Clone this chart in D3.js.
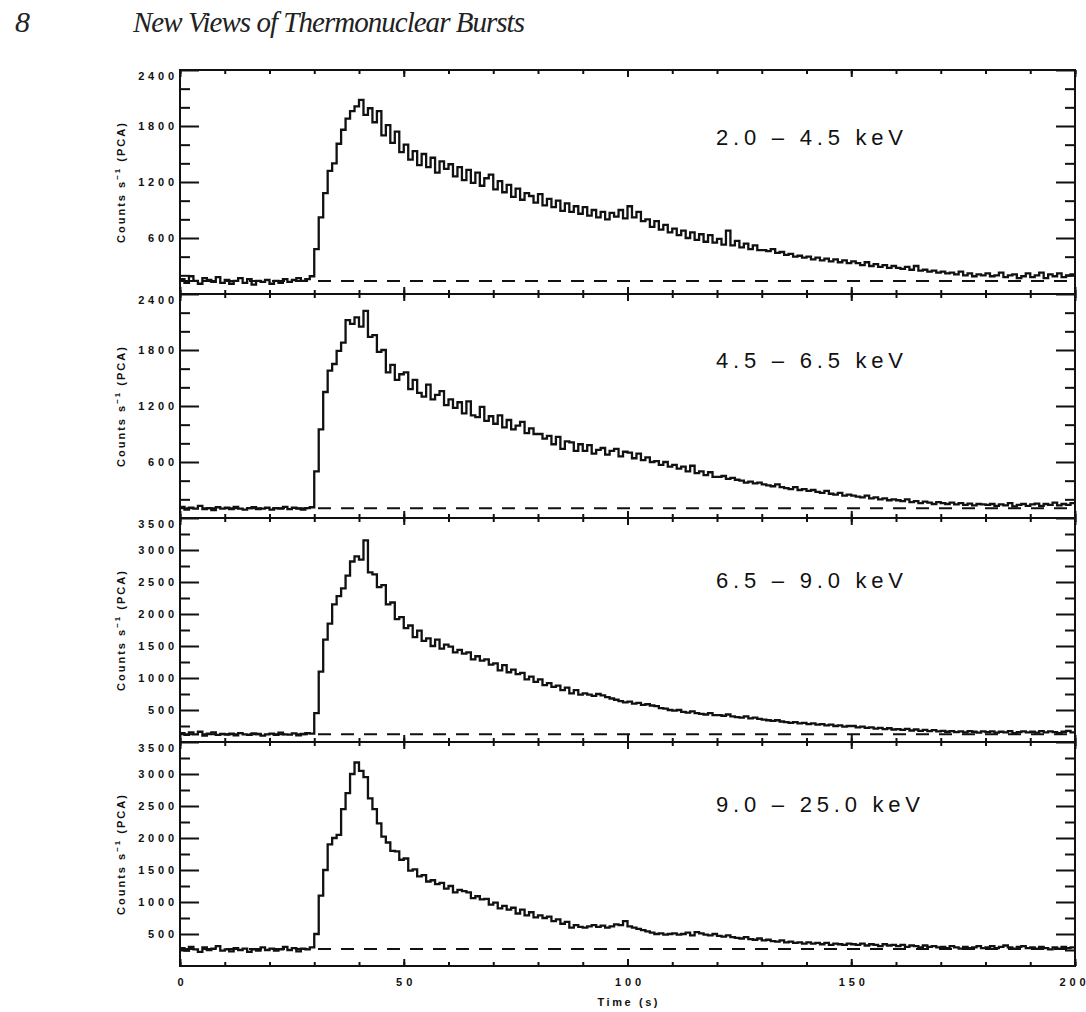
<!DOCTYPE html>
<html>
<head>
<meta charset="utf-8">
<script src="https://cdn.jsdelivr.net/npm/d3@7"></script>
<style>
    body { margin: 0; background: white; }
    .tickLabel { font-family: 'Liberation Sans', Arial, sans-serif; font-weight: bold; font-size: 11px; fill: #111; }
</style>
</head>
<body>
<div id="chart"></div>
<script>
// energy bands, one panel each
let bands = ['2.0 \u2013 4.5 keV', '4.5 \u2013 6.5 keV', '6.5 \u2013 9.0 keV', '9.0 \u2013 25.0 keV'];
let backgrounds = [140, 105, 120, 265];
let yMaxes = [2400, 2400, 3500, 3500];
let yMajorTicks = [
    [600, 1200, 1800, 2400],
    [600, 1200, 1800, 2400],
    [500, 1000, 1500, 2000, 2500, 3000, 3500],
    [500, 1000, 1500, 2000, 2500, 3000, 3500]
];
let yMinorSteps = [200, 200, 250, 250];
let xMajorTicks = [0, 50, 100, 150, 200];
let xMinorTicks = d3.range(0, 201, 10);

// 1 s bins starting at t = 0 .. 199
let binStart = d3.range(0, 200);

let rates2to45 = [
    160, 120, 190, 140, 110, 170, 150, 130, 180, 120,
    150, 110, 140, 170, 120, 160, 100, 140, 130, 150,
    110, 140, 120, 160, 130, 150, 170, 140, 160, 190,
    480, 820, 1080, 1320, 1400, 1610, 1760, 1880, 1960, 2010,
    2080, 1920, 1990, 1840, 1960, 1700, 1810, 1620, 1740, 1520,
    1600, 1440, 1530, 1380, 1500, 1360, 1460, 1300, 1420, 1340,
    1390, 1260, 1360, 1220, 1330, 1190, 1300, 1160, 1240, 1280,
    1120, 1210, 1090, 1170, 1040, 1130, 1010, 1080, 1050, 980,
    1070, 950, 1020, 930, 1000, 890, 970, 880, 940, 860,
    930, 840, 900, 820, 880, 800, 870, 830, 900, 810,
    940, 820, 880, 780, 800, 720, 780, 690, 740, 660,
    700, 630, 680, 600, 660, 580, 640, 560, 630, 550,
    590, 530, 680, 520, 570, 500, 540, 480, 520, 470,
    470, 460, 480, 440, 450, 420, 430, 400, 410, 390,
    400, 370, 390, 360, 380, 350, 370, 340, 360, 330,
    350, 330, 310, 340, 300, 320, 290, 310, 280, 300,
    280, 270, 290, 260, 300, 250, 260, 240, 250, 230,
    240, 220, 230, 210, 240, 200, 220, 190, 210, 200,
    220, 190, 200, 230, 180, 200, 210, 170, 190, 220,
    180, 200, 230, 170, 210, 190, 220, 180, 200, 210
];
let rates45to65 = [
    120, 90, 110, 100, 130, 95, 105, 85, 115, 100,
    110, 95, 120, 100, 90, 105, 115, 95, 100, 110,
    90, 105, 100, 120, 95, 110, 100, 90, 105, 115,
    500, 950, 1350, 1580, 1650, 1790, 1880, 2120, 2080, 2150,
    2050, 2220, 1940, 1960, 1780, 1800, 1560, 1640, 1480, 1540,
    1560, 1380, 1480, 1340, 1300, 1430, 1270, 1320, 1360, 1210,
    1270, 1180, 1240, 1120, 1250, 1100, 1080, 1190, 1040, 1090,
    1010, 1100, 970, 1050, 950, 990, 1030, 910, 960, 900,
    900, 850, 880, 790, 870, 740, 820, 810, 720, 790,
    720, 780, 690, 730, 750, 680, 720, 740, 660, 710,
    700, 640, 690, 620, 650, 600, 610, 570, 600, 550,
    570, 530, 550, 500, 560, 480, 500, 460, 490, 440,
    440, 450, 420, 430, 410, 400, 380, 390, 370, 380,
    360, 350, 340, 360, 330, 320, 310, 330, 300, 310,
    290, 300, 280, 270, 290, 260, 250, 270, 240, 250,
    240, 230, 220, 240, 210, 220, 200, 210, 190, 200,
    190, 180, 200, 170, 180, 160, 175, 165, 150, 170,
    160, 150, 165, 145, 160, 140, 155, 135, 150, 145,
    140, 150, 130, 145, 135, 160, 125, 140, 150, 130,
    145, 155, 130, 150, 140, 165, 135, 150, 140, 160
];
let rates65to90 = [
    140, 110, 150, 120, 160, 100, 130, 150, 110, 125,
    115, 130, 105, 140, 120, 110, 135, 125, 100, 120,
    130, 110, 145, 120, 115, 135, 105, 125, 140, 130,
    450, 1100, 1600, 1850, 2150, 2280, 2400, 2600, 2820, 2900,
    2850, 3150, 2650, 2620, 2420, 2450, 2150, 2180, 1920, 1950,
    1780, 1820, 1640, 1740, 1580, 1620, 1500, 1600, 1460, 1520,
    1490, 1400, 1440, 1380, 1400, 1290, 1340, 1270, 1290, 1210,
    1230, 1120, 1200, 1090, 1130, 1060, 1080, 980, 1020, 940,
    980, 890, 920, 860, 880, 810, 850, 760, 810, 740,
    760, 740, 720, 750, 730, 700, 680, 660, 640, 620,
    630, 600, 610, 580, 590, 570, 560, 530, 520, 500,
    490, 500, 470, 460, 480, 450, 440, 430, 450, 420,
    420, 410, 430, 400, 390, 380, 400, 370, 380, 360,
    350, 340, 330, 340, 320, 310, 300, 310, 290, 300,
    280, 290, 270, 280, 260, 270, 250, 260, 240, 250,
    250, 230, 240, 220, 230, 210, 220, 200, 215, 195,
    200, 190, 205, 180, 195, 175, 190, 170, 185, 165,
    175, 160, 170, 155, 165, 150, 170, 160, 145, 165,
    155, 165, 145, 160, 150, 170, 140, 155, 165, 150,
    160, 145, 170, 150, 165, 155, 140, 160, 175, 150
];
let rates90to250 = [
    280, 240, 300, 260, 220, 290, 250, 270, 310, 240,
    260, 230, 280, 250, 270, 220, 260, 240, 290, 250,
    270, 240, 260, 300, 250, 280, 230, 270, 260, 290,
    500, 1100, 1500, 1900, 2000, 2050, 2450, 2700, 3000, 3180,
    3050, 2950, 2620, 2450, 2230, 2020, 1930, 1800, 1790, 1660,
    1680, 1490, 1510, 1400, 1420, 1320, 1340, 1280, 1300, 1210,
    1250, 1150, 1190, 1170, 1150, 1060, 1090, 1040, 1050, 960,
    990, 900, 940, 880, 910, 820, 880, 790, 840, 760,
    790, 750, 770, 700, 730, 660, 690, 600, 640, 610,
    600, 620, 640, 610, 630, 600, 620, 650, 640, 700,
    620, 600, 580, 560, 540, 520, 500, 510, 490, 500,
    510, 490, 500, 520, 480, 530, 510, 490, 480, 500,
    470, 460, 480, 450, 440, 430, 450, 420, 410, 430,
    400, 410, 390, 380, 400, 370, 380, 360, 370, 350,
    370, 350, 360, 340, 360, 330, 350, 340, 330, 350,
    340, 330, 350, 320, 340, 330, 310, 340, 320, 330,
    310, 330, 300, 320, 310, 290, 320, 300, 310, 290,
    300, 280, 310, 290, 270, 300, 280, 290, 310, 280,
    290, 310, 280, 300, 320, 290, 270, 300, 310, 280,
    290, 270, 300, 280, 260, 290, 270, 300, 280, 290
];
let allRates = [rates2to45, rates45to65, rates65to90, rates90to250];

let width = 1086;
let height = 1012;
let plotLeft = 180;
let plotRight = 1075;
let panelTop = 70;
let panelHeight = 224;
let labelX = 716;
let labelDy = [75, 74, 70, 70];
let sansFont = "'Liberation Sans', Arial, sans-serif";
let serifFont = "'Liberation Serif', 'DejaVu Serif', serif";

let svg = d3
    .select('#chart')
    .append('svg')
    .attr('width', width)
    .attr('height', height)
    .style('background', 'white');

svg
    .append('text')
    .text('8')
    .attr('x', 15)
    .attr('y', 32)
    .attr('font-family', serifFont)
    .attr('font-style', 'italic')
    .attr('font-size', 30)
    .attr('fill', '#222');

svg
    .append('text')
    .text('New Views of Thermonuclear Bursts')
    .attr('x', 133)
    .attr('y', 32)
    .attr('font-family', serifFont)
    .attr('font-style', 'italic')
    .attr('font-size', 29)
    .attr('textLength', 392)
    .attr('lengthAdjust', 'spacing')
    .attr('fill', '#222');

let xScale = d3
    .scaleLinear()
    .domain([0, 200])
    .range([plotLeft, plotRight]);

function styleTicks(g) {
    g.select('.domain').remove();
    g.selectAll('.tick line').attr('stroke', '#111').attr('stroke-width', 2);
}

function fitLabels(g) {
    g.selectAll('.tick text')
        .attr('class', 'tickLabel')
        .attr('font-family', null)
        .attr('font-size', null)
        .attr('textLength', function () {
            return this.textContent.length * 9.7 - 3;
        })
        .attr('lengthAdjust', 'spacing');
}

bands.forEach((band, i) => {
    let top = panelTop + i * panelHeight;
    let bottom = top + panelHeight;
    let yMax = yMaxes[i];

    let yScale = d3
        .scaleLinear()
        .domain([0, yMax])
        .range([bottom, top]);

    let panel = svg.append('g').attr('class', 'panel');

    panel
        .append('clipPath')
        .attr('id', `clip${i}`)
        .append('rect')
        .attr('x', plotLeft)
        .attr('y', top)
        .attr('width', plotRight - plotLeft)
        .attr('height', panelHeight);

    // pre-burst level
    panel
        .append('line')
        .attr('x1', xScale(0))
        .attr('x2', xScale(200))
        .attr('y1', yScale(backgrounds[i]))
        .attr('y2', yScale(backgrounds[i]))
        .attr('stroke', '#111')
        .attr('stroke-width', 2)
        .attr('stroke-dasharray', '13,10');

    let points = binStart.map((t, k) => ({ t: t, v: allRates[i][k] }));
    points.push({ t: 200, v: allRates[i][allRates[i].length - 1] });

    let line = d3
        .line()
        .x(d => xScale(d.t))
        .y(d => yScale(d.v))
        .curve(d3.curveStepAfter);

    panel
        .append('path')
        .datum(points)
        .attr('d', line)
        .attr('fill', 'none')
        .attr('stroke', '#111')
        .attr('stroke-width', 2.3)
        .attr('stroke-linejoin', 'miter')
        .attr('clip-path', `url(#clip${i})`);

    let yMinor = d3.range(0, yMax + 1, yMinorSteps[i])
        .filter(v => v > 0 && yMajorTicks[i].indexOf(v) < 0);

    // left and right y ticks, pointing inward
    panel
        .append('g')
        .attr('transform', `translate(${plotLeft},0)`)
        .call(d3.axisLeft(yScale).tickValues(yMinor).tickSize(-10).tickFormat(''))
        .call(styleTicks);
    let yAxisLeft = panel
        .append('g')
        .attr('transform', `translate(${plotLeft},0)`)
        .call(d3.axisLeft(yScale).tickValues(yMajorTicks[i]).tickSize(-19).tickPadding(6).tickFormat(d3.format('d')))
        .call(styleTicks)
        .call(fitLabels);
    yAxisLeft
        .selectAll('.tick text')
        .attr('dy', d => d === yMax ? '0.85em' : '0.35em');

    panel
        .append('g')
        .attr('transform', `translate(${plotRight},0)`)
        .call(d3.axisRight(yScale).tickValues(yMinor).tickSize(-10).tickFormat(''))
        .call(styleTicks);
    panel
        .append('g')
        .attr('transform', `translate(${plotRight},0)`)
        .call(d3.axisRight(yScale).tickValues(yMajorTicks[i]).tickSize(-19).tickFormat(''))
        .call(styleTicks);

    // x ticks on top and bottom edges
    panel
        .append('g')
        .attr('transform', `translate(0,${top})`)
        .call(d3.axisTop(xScale).tickValues(xMinorTicks).tickSize(-4).tickFormat(''))
        .call(styleTicks);
    panel
        .append('g')
        .attr('transform', `translate(0,${top})`)
        .call(d3.axisTop(xScale).tickValues(xMajorTicks).tickSize(-7).tickFormat(''))
        .call(styleTicks);
    panel
        .append('g')
        .attr('transform', `translate(0,${bottom})`)
        .call(d3.axisBottom(xScale).tickValues(xMinorTicks).tickSize(-4).tickFormat(''))
        .call(styleTicks);
    let xAxis = panel
        .append('g')
        .attr('transform', `translate(0,${bottom})`)
        .call(d3.axisBottom(xScale).tickValues(xMajorTicks).tickSize(-7).tickPadding(12)
            .tickFormat(i === bands.length - 1 ? d3.format('d') : ''))
        .call(styleTicks);
    if (i === bands.length - 1) {
        xAxis.call(fitLabels);
        // keep the last label inside the page
        xAxis
            .selectAll('.tick text')
            .filter(d => d === 200)
            .attr('text-anchor', 'end')
            .attr('x', 10);
    }

    panel
        .append('rect')
        .attr('x', plotLeft)
        .attr('y', top)
        .attr('width', plotRight - plotLeft)
        .attr('height', panelHeight)
        .attr('fill', 'none')
        .attr('stroke', '#111')
        .attr('stroke-width', 2);

    panel
        .append('text')
        .text(band)
        .attr('x', labelX)
        .attr('y', top + labelDy[i])
        .attr('font-family', sansFont)
        .attr('font-size', 22)
        .attr('textLength', i === 3 ? 204 : 187)
        .attr('lengthAdjust', 'spacing')
        .attr('fill', '#111');

    let yTitle = panel
        .append('text')
        .attr('transform', `translate(125,${(top + bottom) / 2})rotate(-90)`)
        .attr('text-anchor', 'middle')
        .attr('font-family', sansFont)
        .attr('font-weight', 'bold')
        .attr('font-size', 11)
        .attr('letter-spacing', 2)
        .attr('fill', '#111');
    yTitle.append('tspan').text('Counts s');
    yTitle.append('tspan').text('\u22121').attr('dy', -5).attr('font-size', 8);
    yTitle.append('tspan').text(' (PCA)').attr('dy', 5);
});

svg
    .append('text')
    .text('Time (s)')
    .attr('x', xScale(100))
    .attr('y', 1006)
    .attr('text-anchor', 'middle')
    .attr('font-family', sansFont)
    .attr('font-weight', 'bold')
    .attr('font-size', 11)
    .attr('textLength', 60)
    .attr('lengthAdjust', 'spacing')
    .attr('fill', '#111');
</script>
</body>
</html>
